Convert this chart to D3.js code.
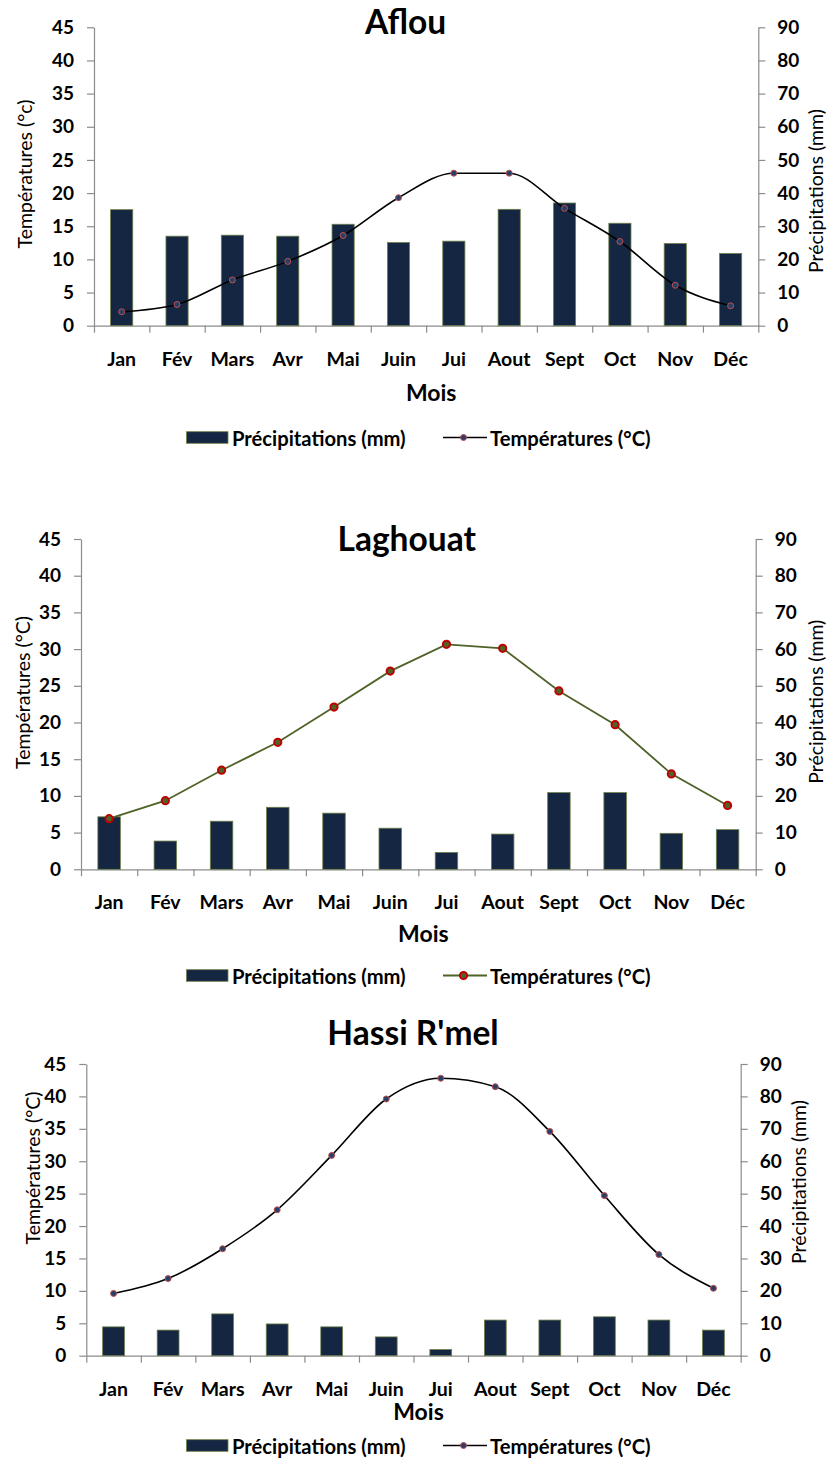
<!DOCTYPE html>
<html>
<head>
<meta charset="utf-8">
<script src="https://cdn.jsdelivr.net/npm/d3@7"></script>
<style>
  html, body { margin: 0; padding: 0; background: #fff; }
  svg { display: block; font-family: Lato, "Open Sans", sans-serif; }
</style>
</head>
<body>
<svg id="chart" width="827" height="1459"></svg>
<script>
// Month labels shared by the three stations
const months = ["Jan", "Fév", "Mars", "Avr", "Mai", "Juin", "Jui", "Aout", "Sept", "Oct", "Nov", "Déc"];
const tempTicks = [0, 5, 10, 15, 20, 25, 30, 35, 40, 45];
const precipTicks = [0, 10, 20, 30, 40, 50, 60, 70, 80, 90];

// Aflou
const aflouPrecip = [35, 27, 27.3, 27, 30.6, 25.1, 25.5, 35.1, 37, 30.9, 24.8, 21.8];
const aflouTemp = [2.1, 3.2, 6.9, 9.7, 13.6, 19.3, 23.0, 23.0, 17.7, 12.7, 6.1, 3.0];

// Laghouat
const laghouatPrecip = [14.3, 7.7, 13.1, 16.9, 15.3, 11.2, 4.6, 9.6, 20.9, 20.9, 9.8, 10.8];
const laghouatTemp = [6.9, 9.35, 13.5, 17.3, 22.1, 27.0, 30.65, 30.1, 24.3, 19.7, 13.0, 8.7];

// Hassi R'mel
const hassiPrecip = [8.9, 7.9, 12.9, 9.8, 8.9, 5.8, 1.9, 11.0, 11.0, 12.0, 11.0, 7.9];
const hassiTemp = [9.6, 11.9, 16.5, 22.5, 30.9, 39.6, 42.8, 41.5, 34.6, 24.7, 15.6, 10.4];

const BAR_FILL = "#142641";
const BAR_STROKE = "#6e7f4a";
const AXIS = "#8c8c8c";

const charts = [
  {
    title: "Aflou", tLabel: "Températures (°c)", precip: aflouPrecip, temp: aflouTemp,
    left: 94, right: 758.3, top: 27.3, bottom: 325.7,
    titleX: 405.5, titleY: 33.5,
    leftTitle: [24, 174], rightTitle: [815, 191],
    xLabelY: 366, moisY: 401, legendY: 437.5,
    curve: d3.curveMonotoneX, line: "#000", lineW: 1.6,
    mFill: "#27406a", mStroke: "#c0504d", mR: 3, mW: 1
  },
  {
    title: "Laghouat", tLabel: "Températures (°C)", precip: laghouatPrecip, temp: laghouatTemp,
    left: 81, right: 755.7, top: 539, bottom: 869.3,
    titleX: 406.7, titleY: 550.5,
    leftTitle: [22, 692.5], rightTitle: [815, 701.7],
    xLabelY: 909, moisY: 941.5, legendY: 975.5,
    curve: d3.curveLinear, line: "#4f6228", lineW: 1.8,
    mFill: "#4f6228", mStroke: "#c00000", mR: 3.6, mW: 2
  },
  {
    title: "Hassi R'mel", tLabel: "Températures (°C)", precip: hassiPrecip, temp: hassiTemp,
    left: 86.3, right: 740.7, top: 1064, bottom: 1355.7,
    titleX: 413, titleY: 1045,
    leftTitle: [32, 1168], rightTitle: [798.7, 1182],
    xLabelY: 1395.7, moisY: 1419.5, legendY: 1445.5,
    curve: d3.curveMonotoneX, line: "#000", lineW: 1.6,
    mFill: "#27406a", mStroke: "#c0504d", mR: 3, mW: 1
  }
];

const svg = d3.select("#chart");

charts.forEach(c => {
  const g = svg.append("g");

  const x = d3.scaleBand().domain(months).range([c.left, c.right]).paddingInner(0).paddingOuter(0);
  const xEdge = d3.scaleLinear().domain([0, 12]).range([c.left, c.right]);
  const yT = d3.scaleLinear().domain([0, 45]).range([c.bottom, c.top]);
  const yP = d3.scaleLinear().domain([0, 90]).range([c.bottom, c.top]);

  // Title
  g.append("text")
    .attr("x", c.titleX).attr("y", c.titleY)
    .attr("text-anchor", "middle")
    .attr("font-size", 33.5).attr("font-weight", 700)
    .text(c.title);

  // Left temperature axis
  const axL = g.append("g").attr("transform", `translate(${c.left},0)`)
    .call(d3.axisLeft(yT).tickValues(tempTicks).tickSize(7).tickPadding(13).tickSizeOuter(0));
  // Right precipitation axis
  const axR = g.append("g").attr("transform", `translate(${c.right},0)`)
    .call(d3.axisRight(yP).tickValues(precipTicks).tickSize(7).tickPadding(12).tickSizeOuter(0));
  // Bottom axis: tick marks between months
  const axB = g.append("g").attr("transform", `translate(0,${c.bottom})`)
    .call(d3.axisBottom(xEdge).tickValues(d3.range(13)).tickSize(7).tickFormat("").tickSizeOuter(0));

  [axL, axR, axB].forEach(a => {
    a.select(".domain").attr("stroke", AXIS).attr("stroke-width", 1.2);
    a.selectAll(".tick line").attr("stroke", AXIS).attr("stroke-width", 1.2);
    a.selectAll(".tick text")
      .attr("fill", "#000").attr("font-size", 19).attr("font-weight", 700)
      .attr("font-family", "Lato, sans-serif");
  });

  // Month labels
  g.append("g").selectAll("text").data(months).join("text")
    .attr("x", d => x(d) + x.bandwidth() / 2)
    .attr("y", c.xLabelY)
    .attr("text-anchor", "middle")
    .attr("font-size", 19.5).attr("font-weight", 700)
    .text(d => d);

  // Axis titles
  g.append("text")
    .attr("transform", `translate(${c.leftTitle[0]},${c.leftTitle[1]}) rotate(-90)`)
    .attr("text-anchor", "middle").attr("dominant-baseline", "central")
    .attr("font-size", 19.5)
    .text(c.tLabel);
  g.append("text")
    .attr("transform", `translate(${c.rightTitle[0]},${c.rightTitle[1]}) rotate(-90)`)
    .attr("text-anchor", "middle").attr("dominant-baseline", "central")
    .attr("font-size", 19.5)
    .text("Précipitations (mm)");
  g.append("text")
    .attr("x", (c.left + c.right) / 2 + 5).attr("y", c.moisY)
    .attr("text-anchor", "middle")
    .attr("font-size", 23).attr("font-weight", 700)
    .text("Mois");

  // Precipitation bars
  const bw = x.bandwidth() * 0.4;
  g.append("g").selectAll("rect").data(c.precip).join("rect")
    .attr("x", (d, i) => x(months[i]) + (x.bandwidth() - bw) / 2)
    .attr("y", d => yP(d))
    .attr("width", bw)
    .attr("height", d => c.bottom - yP(d))
    .attr("fill", BAR_FILL).attr("stroke", BAR_STROKE).attr("stroke-width", 0.8);

  // Temperature line
  const line = d3.line()
    .x((d, i) => x(months[i]) + x.bandwidth() / 2)
    .y(d => yT(d))
    .curve(c.curve);
  g.append("path").datum(c.temp)
    .attr("d", line)
    .attr("fill", "none").attr("stroke", c.line).attr("stroke-width", c.lineW);
  g.append("g").selectAll("circle").data(c.temp).join("circle")
    .attr("cx", (d, i) => x(months[i]) + x.bandwidth() / 2)
    .attr("cy", d => yT(d))
    .attr("r", c.mR)
    .attr("fill", c.mFill).attr("stroke", c.mStroke).attr("stroke-width", c.mW);

  // Legend
  const ly = c.legendY;
  g.append("rect")
    .attr("x", 186.5).attr("y", ly - 5.8).attr("width", 41.5).attr("height", 11.6)
    .attr("fill", BAR_FILL).attr("stroke", BAR_STROKE).attr("stroke-width", 0.8);
  g.append("text")
    .attr("x", 232).attr("y", ly).attr("dominant-baseline", "central")
    .attr("font-size", 20.2).attr("font-weight", 700)
    .text("Précipitations (mm)");
  g.append("line")
    .attr("x1", 443).attr("x2", 487).attr("y1", ly).attr("y2", ly)
    .attr("stroke", c.line).attr("stroke-width", c.lineW);
  g.append("circle")
    .attr("cx", 463.5).attr("cy", ly).attr("r", c.mR)
    .attr("fill", c.mFill).attr("stroke", c.mStroke).attr("stroke-width", c.mW);
  g.append("text")
    .attr("x", 490).attr("y", ly).attr("dominant-baseline", "central")
    .attr("font-size", 20.2).attr("font-weight", 700)
    .text("Températures (°C)");
});
</script>
</body>
</html>
